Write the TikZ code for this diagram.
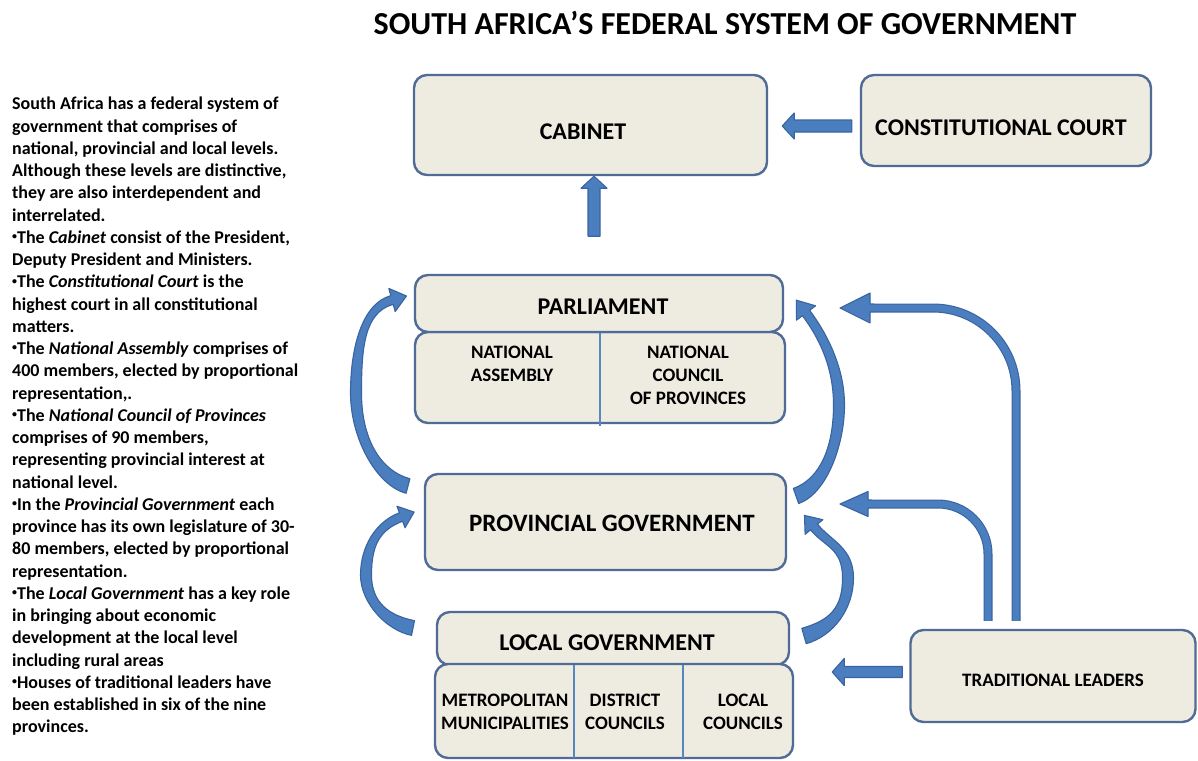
\documentclass[tikz,border=0pt]{standalone}
\usepackage{fontspec}
\setmainfont{Carlito}
\usetikzlibrary{calc}

\definecolor{boxfill}{HTML}{EEECE1}
\definecolor{boxline}{HTML}{4F6B96}
\definecolor{arrowfill}{HTML}{4A7EBE}
\definecolor{arrowline}{HTML}{3A64A0}
\definecolor{divline}{HTML}{5A86C0}

\tikzset{
  govbox/.style={draw=boxline, fill=boxfill, line width=2.4pt, rounded corners=13pt, inner sep=0pt},
  boxlabel/.style={font=\bfseries\fontsize{24}{28}\selectfont, inner sep=0pt},
  sublabel/.style={font=\bfseries\fontsize{19}{23}\selectfont, inner sep=0pt, align=center},
  blockarrow/.style={fill=arrowfill, draw=arrowline, line width=1.1pt, line join=round},
  bentshaft/.style={draw=arrowline, line width=1.1pt, double=arrowfill, double distance=6.8pt},
  divider/.style={draw=divline, line width=2.6pt},
}

% small bullet for the list
\newcommand\listbullet{\raisebox{0.2em}{\scalebox{0.55}{•}}}

% straight block arrow: start, tip, shaft half width, head length, head half width
\newcommand\straightarrow[5]{%
  \coordinate (bS) at #1;
  \coordinate (bT) at #2;
  \coordinate (bH) at ($(bT)!#4pt!(bS)$);
  \filldraw[blockarrow] ($(bS)!#3pt!90:(bT)$) -- ($(bH)!#3pt!-90:(bS)$)
    -- ($(bH)!#5pt!-90:(bS)$) -- (bT) -- ($(bH)!#5pt!90:(bS)$)
    -- ($(bH)!#3pt!90:(bS)$) -- ($(bS)!#3pt!-90:(bT)$) -- cycle;
}

% widths for the next curved arrow: tail, middle, head end half widths,
% head length, head half width
\newcommand\setcurvedwidths[5]{%
  \def\cwt{#1}\def\cwm{#2}\def\cwh{#3}\def\chl{#4}\def\chw{#5}}

% tapering curved arrow in two bezier pieces:
% tail, control 1, control 2, middle, control 4, head base
\newcommand\curvedarrow[6]{%
  \coordinate (cT) at #1;
  \coordinate (cA) at #2;
  \coordinate (cB) at #3;
  \coordinate (cM) at #4;
  \coordinate (cD) at #5;
  \coordinate (cH) at #6;
  \coordinate (cC) at ($(cM)!-1!(cB)$);
  \coordinate (t1) at ($(cT)!\cwt pt!90:(cA)$);
  \coordinate (t2) at ($(cT)!\cwt pt!-90:(cA)$);
  \coordinate (m1) at ($(cM)!\cwm pt!-90:(cB)$);
  \coordinate (m2) at ($(cM)!\cwm pt!90:(cB)$);
  \coordinate (h1) at ($(cH)!\cwh pt!-90:(cD)$);
  \coordinate (h2) at ($(cH)!\cwh pt!90:(cD)$);
  \coordinate (g1) at ($(cH)!\chw pt!-90:(cD)$);
  \coordinate (g2) at ($(cH)!\chw pt!90:(cD)$);
  \coordinate (cTip) at ($(cH)!-\chl pt!(cD)$);
  \filldraw[blockarrow]
    (t1) .. controls ($(cA)+(t1)-(cT)$) and ($(cB)+(m1)-(cM)$) .. (m1)
         .. controls ($(cC)+(m1)-(cM)$) and ($(cD)+(h1)-(cH)$) .. (h1)
    -- (g1) -- (cTip) -- (g2) -- (h2)
         .. controls ($(cD)+(h2)-(cH)$) and ($(cC)+(m2)-(cM)$) .. (m2)
         .. controls ($(cB)+(m2)-(cM)$) and ($(cA)+(t2)-(cT)$) .. (t2) -- cycle;
}

\begin{document}
\begin{tikzpicture}[x=1pt, y=-1pt]
  \fill[white] (0,0) rectangle (1198,760);
  \useasboundingbox (0,0) rectangle (1198,760);

  % title
  \node[font=\bfseries\fontsize{32}{36}\selectfont, inner sep=0pt] (title) at (725,23)
    {SOUTH AFRICA’S FEDERAL SYSTEM OF GOVERNMENT};

  % explanatory text
  \node[anchor=north west, align=left, inner sep=0pt,
        font=\bfseries\fontsize{18}{22.25}\selectfont] (desc) at (12,97) {%
South Africa has a federal system of\\
government that comprises of\\
national, provincial and local levels.\\
Although these levels are distinctive,\\
they are also interdependent and\\
interrelated.\\
\listbullet The \textit{Cabinet} consist of the President,\\
Deputy President and Ministers.\\
\listbullet The \textit{Constitutional Court} is the\\
highest court in all constitutional\\
matters.\\
\listbullet The \textit{National Assembly} comprises of\\
400 members, elected by proportional\\
representation,.\\
\listbullet The \textit{National Council of Provinces}\\
comprises of 90 members,\\
representing provincial interest at\\
national level.\\
\listbullet In the \textit{Provincial Government} each\\
province has its own legislature of 30-\\
80 members, elected by proportional\\
representation.\\
\listbullet The \textit{Local Government} has a key role\\
in bringing about economic\\
development at the local level\\
including rural areas\\
\listbullet Houses of traditional leaders have\\
been established in six of the nine\\
provinces.};

  % cabinet and constitutional court
  \node[govbox, minimum width=353pt, minimum height=100pt] (cab) at (590.5,125) {};
  \node[boxlabel] (cabtxt) at (583,132) {CABINET};
  \node[govbox, minimum width=290pt, minimum height=91pt] (cc) at (1006,120.5) {};
  \node[boxlabel] (cctxt) at (1001,128) {CONSTITUTIONAL COURT};

  % parliament
  \node[govbox, minimum width=370pt, minimum height=91pt] (parlsub) at (600,377.5) {};
  \draw[divider] (600,333) -- (600,426);
  \node[govbox, minimum width=368pt, minimum height=57pt] (parl) at (599,303.5) {};
  \node[boxlabel] (parltxt) at (603,307) {PARLIAMENT};
  \node[sublabel] (na) at (512,363.5) {NATIONAL\\ASSEMBLY};
  \node[sublabel] (ncop) at (688,375) {NATIONAL\\COUNCIL\\OF PROVINCES};

  % provincial government
  \node[govbox, minimum width=361pt, minimum height=96pt] (prov) at (605.5,522) {};
  \node[boxlabel, font=\bfseries\fontsize{25}{29}\selectfont] (provtxt) at (612,523) {PROVINCIAL GOVERNMENT};

  % local government
  \node[govbox, minimum width=352pt, minimum height=53pt] (local) at (613,638.5) {};
  \node[govbox, minimum width=358pt, minimum height=94pt] (localsub) at (614,711) {};
  \draw[divider] (574,665) -- (574,758);
  \draw[divider] (683,665) -- (683,758);
  \node[boxlabel] (localtxt) at (607,643) {LOCAL GOVERNMENT};
  \node[sublabel] (metro) at (505,712) {METROPOLITAN\\MUNICIPALITIES};
  \node[sublabel] (dist) at (625,712) {DISTRICT\\COUNCILS};
  \node[sublabel] (lc) at (743,712) {LOCAL\\COUNCILS};

  % traditional leaders
  \node[govbox, minimum width=285pt, minimum height=92pt] (tl) at (1053,676) {};
  \node[boxlabel, font=\bfseries\fontsize{19}{23}\selectfont] (tltxt) at (1053,680) {TRADITIONAL LEADERS};

  % straight arrows
  \straightarrow{($(cab.south)+(3.5,60)$)}{($(cab.south)+(3.5,0)$)}{6}{12}{13}
  \straightarrow{($(cc.west)+(-8,5.5)$)}{($(cab.east)+(14,1)$)}{6}{12}{13}
  \straightarrow{($(tl.west)+(-7,-4)$)}{($(localsub.east)+(38,-39)$)}{5.5}{12}{13.5}

  % curved arrows between the levels
  \setcurvedwidths{7.5}{5.5}{4.5}{15}{12}
  \curvedarrow{(408,486)}{(378,478)}{(356,438)}{(356,393)}{(363,308)}{(392,300)}
  \setcurvedwidths{7.5}{5.5}{4.5}{14}{11.5}
  \curvedarrow{(413,628)}{(388,623)}{(366,603)}{(366,575)}{(377,526)}{(401,517)}
  \setcurvedwidths{8}{5.5}{4.5}{16}{12}
  \curvedarrow{(796,496)}{(824,486)}{(839,445)}{(839,405)}{(821,333)}{(806,313)}
  \setcurvedwidths{8}{5.5}{4.5}{15}{11.5}
  \curvedarrow{(804,636)}{(832,628)}{(848,608)}{(848,578)}{(828,544)}{(814,527)}

  % arrows from the traditional leaders
  \coordinate (upin) at (874,308);
  \coordinate (lowin) at (872,504);
  \draw[bentshaft, rounded corners=83pt] ($(tl.north)+(-37,-8)$) |- (upin);
  \filldraw[blockarrow] (874,304) -- (870,304) -- (870,293) -- (840,308)
    -- (870,323) -- (870,312) -- (874,312);
  \draw[bentshaft, rounded corners=50pt] ($(tl.north)+(-65,-8)$) |- (lowin);
  \filldraw[blockarrow] (872,500) -- (868,500) -- (868,491.5) -- (840,504)
    -- (868,516.5) -- (868,508) -- (872,508);
\end{tikzpicture}
\end{document}
